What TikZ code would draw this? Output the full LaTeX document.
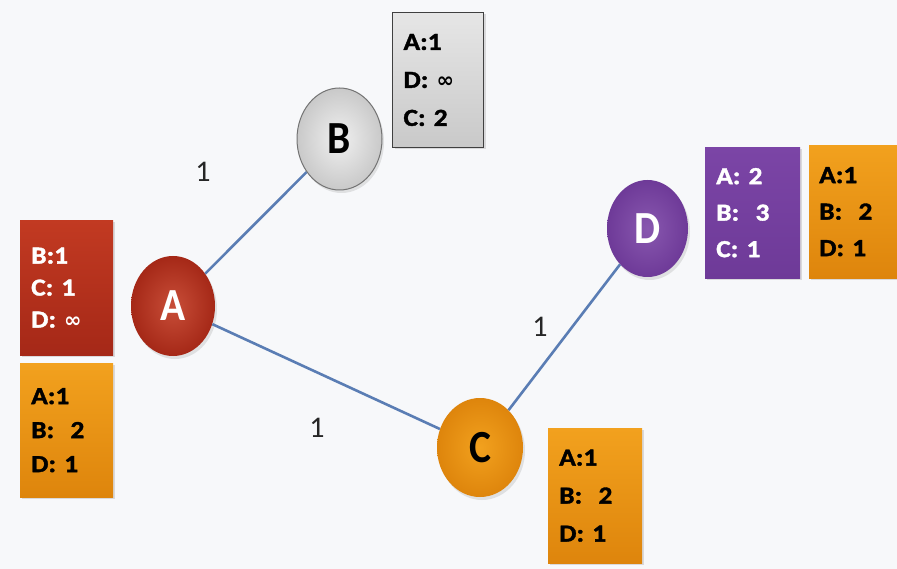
\documentclass[tikz,border=0pt]{standalone}
\usepackage{fontspec}
\setmainfont{Carlito}
\newfontfamily\boxfont[FakeStretch=1.12, FakeBold=1.5]{Carlito}
\newfontfamily\circfont[FakeStretch=0.9]{Carlito}
\newfontfamily\symf{DejaVu Sans}
\newcommand{\infsym}{{\symf\bfseries\fontsize{21}{21}\selectfont ∞}}
\usetikzlibrary{shapes.geometric,shadows}
\definecolor{bgc}{HTML}{F7F8FA}
\definecolor{redtop}{HTML}{C23A22}
\definecolor{redbot}{HTML}{A52817}
\definecolor{ortop}{HTML}{F2A11E}
\definecolor{orbot}{HTML}{DE850C}
\definecolor{purp}{HTML}{7B45A6}
\definecolor{purpd}{HTML}{6E3A98}
\definecolor{graytop}{HTML}{E6E6E6}
\definecolor{graybot}{HTML}{C9C9C9}
\definecolor{edgec}{HTML}{5A7DB4}
\tikzset{
  bx/.style={anchor=north west, align=left, inner xsep=11pt, inner ysep=0pt,
    font=\boxfont\bfseries\fontsize{24.5}{#1}\selectfont,
    drop shadow={opacity=0.25, shadow xshift=2pt, shadow yshift=-2pt}},
  redbx/.style={bx=#1, top color=redtop, bottom color=redbot, text=white},
  orbx/.style={bx=#1, top color=ortop, bottom color=orbot, text=black},
  graybx/.style={bx=#1, top color=graytop, bottom color=graybot, draw=black!75, line width=1pt, text=black},
  purpbx/.style={bx=#1, top color=purp, bottom color=purpd, text=white},
  vert/.style={ellipse, minimum width=84pt, minimum height=100pt, inner sep=0pt,
    font=\circfont\bfseries\fontsize{46}{46}\selectfont,
    drop shadow={opacity=0.2, shadow xshift=2pt, shadow yshift=-3pt}},
  lnk/.style={draw=edgec, line width=2.6pt},
  wlab/.style={font=\fontsize{30}{30}\selectfont, text=black!85}
}
\begin{document}
\begin{tikzpicture}[x=1pt,y=-1pt]
\fill[bgc] (0,0) rectangle (897,569);
\useasboundingbox (0,0) rectangle (897,569);

% vertices
\node[vert, inner color=redtop!90!white, outer color=redbot, text=white] (A) at (173,306) {A};
\node[vert, inner color=graytop!60!white, outer color=graybot, draw=black!55, line width=1pt, minimum width=85pt, minimum height=102pt, text=black] (B) at (339.5,139) {B};
\node[vert, inner color=ortop, outer color=orbot, minimum width=86pt, minimum height=99pt, text=black] (C) at (480,447.5) {C};
\node[vert, inner color=purp!90!white, outer color=purpd, minimum width=81pt, minimum height=97pt, text=white] (D) at (647.5,228.5) {D};

% links
\draw[lnk] (A) -- (B);
\draw[lnk] (A) -- (C);
\draw[lnk] (C) -- (D);

% weights
\node[wlab] (w1) at (203,172) {1};
\node[wlab] (w2) at (317,428) {1};
\node[wlab] (w3) at (540,327) {1};

% tables
\node[redbx=32, text width=71pt, minimum height=135pt] (ta) at (20,220) {B:1\\C: 1\\D: \infsym};
\node[orbx=34, text width=71pt, minimum height=134pt] (tao) at (20,363) {A:1\\B:\ \ 2\\D: 1};
\node[graybx=38, text width=69pt, minimum height=135pt] (tb) at (392,12) {A:1\\D: \infsym\\C: 2};
\node[purpbx=36.5, text width=73pt, minimum height=131pt] (td) at (705,147) {A: 2\\B:\ \ 3\\C: 1};
\node[orbx=36.5, text width=70pt, minimum height=133pt, inner xsep=10pt] (tdo) at (809,145) {A:1\\B:\ \ 2\\D: 1};
\node[orbx=38, text width=72pt, minimum height=135pt] (tc) at (548,428) {A:1\\B:\ \ 2\\D: 1};
\end{tikzpicture}
\end{document}
